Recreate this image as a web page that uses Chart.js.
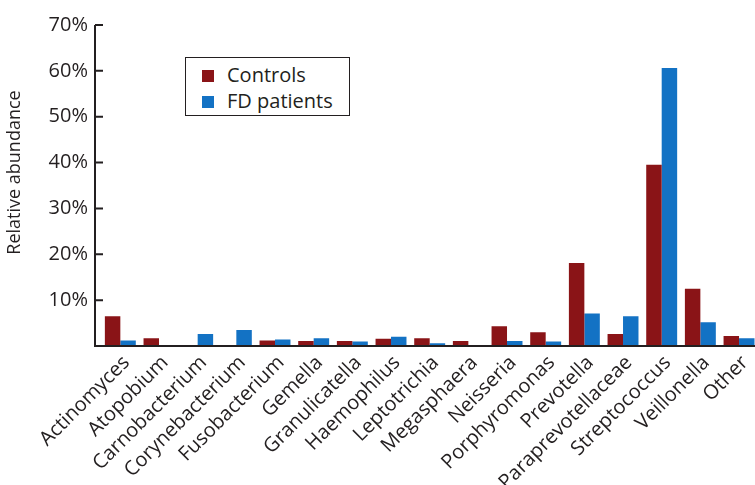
<!DOCTYPE html>
<html lang="en">

<head>
    <meta charset="UTF-8">
    <title>Relative abundance</title>
    <script src="https://cdn.jsdelivr.net/npm/chart.js"></script>
    <style>
        html, body {
            margin: 0;
            padding: 0;
            background: #ffffff;
            overflow: hidden;
        }

        .page {
            position: relative;
            width: 755px;
            height: 485px;
            overflow: hidden;
        }

        .grafico {
            position: absolute;
            left: 0;
            top: 0;
            width: 761px;
            height: 485px;
        }

        .legenda {
            position: absolute;
            left: 185px;
            top: 57px;
            width: 163px;
            height: 57px;
            border: 1.5px solid #231f20;
            background: #ffffff;
            font-family: "Open Sans", sans-serif;
            font-size: 20px;
            color: #231f20;
        }

        .item {
            position: absolute;
            left: 16px;
            height: 24px;
            line-height: 24px;
            white-space: nowrap;
        }

        .item span.cor {
            position: absolute;
            left: 0;
            top: 6px;
            width: 12px;
            height: 12px;
        }

        .item span.txt {
            position: absolute;
            left: 25px;
            top: -1px;
        }
    </style>
</head>

<body>
    <div class="page">
        <div class="grafico">
            <canvas id="myChart"></canvas>
        </div>
        <div class="legenda" id="div_legenda"></div>
    </div>
</body>

</html>

<script>
    // dados (%)
    const categorias = ['Actinomyces', 'Atopobium', 'Carnobacterium', 'Corynebacterium', 'Fusobacterium',
        'Gemella', 'Granulicatella', 'Haemophilus', 'Leptotrichia', 'Megasphaera', 'Neisseria',
        'Porphyromonas', 'Prevotella', 'Paraprevotellaceae', 'Streptococcus', 'Veillonella', 'Other'];
    const controls = [6.5, 1.7, 0.1, 0.1, 1.2, 1.1, 1.1, 1.6, 1.7, 1.1, 4.3, 3.0, 18.1, 2.6, 39.5, 12.5, 2.2];
    const fdPatients = [1.2, 0.2, 2.6, 3.5, 1.4, 1.7, 1.0, 2.0, 0.6, 0.15, 1.1, 1.0, 7.1, 6.5, 60.6, 5.2, 1.7];
    const ticksY = [0, 10, 20, 30, 40, 50, 60, 70];
    const tituloY = 'Relative abundance';

    const corTexto = '#231f20';
    const vermelho = '#8a1417';
    const azul = '#1372c4';

    // eixos desenhados um pouco a esquerda da area das barras, com ticks para dentro
    const eixos = {
        id: 'eixos',
        afterDraw(chart) {
            const ctx = chart.ctx;
            const area = chart.chartArea;
            const y = chart.scales.y;
            const x0 = area.left - 6;
            ctx.save();
            ctx.strokeStyle = corTexto;
            ctx.lineWidth = 2;
            ctx.beginPath();
            ctx.moveTo(x0, y.getPixelForValue(ticksY[ticksY.length - 1]));
            ctx.lineTo(x0, area.bottom);
            ctx.lineTo(chart.width, area.bottom);
            for (let i = 1; i < ticksY.length; i++) {
                const py = y.getPixelForValue(ticksY[i]);
                ctx.moveTo(x0, py);
                ctx.lineTo(x0 + 8, py);
            }
            ctx.stroke();

            // titulo do eixo y (um pouco acima do centro, como no original)
            ctx.translate(15, (area.top + area.bottom) / 2 - 13);
            ctx.rotate(-Math.PI / 2);
            ctx.fillStyle = corTexto;
            ctx.font = '18px "Open Sans"';
            ctx.textAlign = 'center';
            ctx.textBaseline = 'middle';
            ctx.fillText(tituloY, 0, 0);
            ctx.restore();
        }
    };

    const dados = {
        labels: categorias,
        datasets: [{
            label: 'Controls',
            data: controls,
            backgroundColor: vermelho,
            borderWidth: 0
        }, {
            label: 'FD patients',
            data: fdPatients,
            backgroundColor: azul,
            borderWidth: 0
        }]
    };

    const config = {
        type: 'bar',
        data: dados,
        options: {
            responsive: true,
            maintainAspectRatio: false,
            animation: false,
            datasets: {
                bar: {
                    categoryPercentage: 0.8,
                    barPercentage: 1.0
                }
            },
            layout: {
                padding: { top: 23, right: 0, bottom: 0, left: 0 }
            },
            plugins: {
                legend: { display: false },
                tooltip: { enabled: false }
            },
            scales: {
                x: {
                    grid: { display: false, drawTicks: false },
                    border: { display: false },
                    ticks: {
                        autoSkip: false,
                        minRotation: 45,
                        maxRotation: 45,
                        padding: 5,
                        labelOffset: 6,
                        color: corTexto,
                        font: { family: 'Open Sans', size: 20 }
                    },
                    afterFit(scale) {
                        scale.height = 139;
                    }
                },
                y: {
                    min: 0,
                    max: 70,
                    grid: { display: false, drawTicks: false },
                    border: { display: false },
                    afterBuildTicks(scale) {
                        scale.ticks = ticksY.map(v => ({ value: v }));
                    },
                    ticks: {
                        padding: 13,
                        color: corTexto,
                        font: { family: 'Open Sans', size: 20 },
                        callback: function (v) {
                            return v === 0 ? '' : v + '%';
                        }
                    },
                    afterFit(scale) {
                        scale.width = 101;
                    }
                }
            }
        },
        plugins: [eixos]
    };

    let myChart = new Chart(
        document.getElementById('myChart'),
        config
    );

    // legenda em html a partir dos datasets
    const legenda = document.getElementById('div_legenda');
    dados.datasets.forEach(function (ds, i) {
        const item = document.createElement('div');
        item.className = 'item';
        item.style.top = (6 + i * 26) + 'px';
        item.innerHTML = `<span class="cor" style="background:${ds.backgroundColor}"></span><span class="txt">${ds.label}</span>`;
        legenda.appendChild(item);
    });
</script>
